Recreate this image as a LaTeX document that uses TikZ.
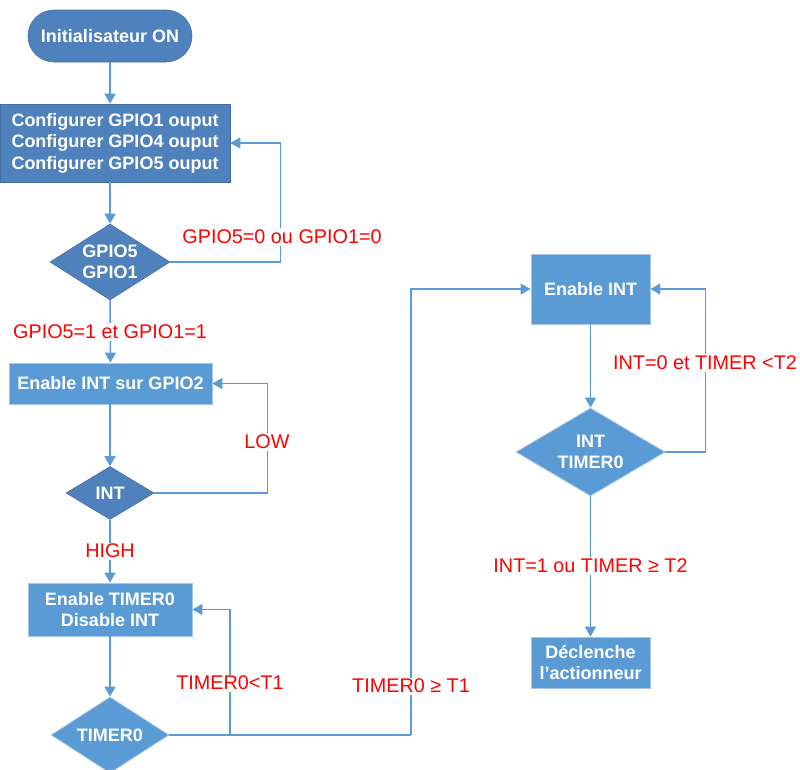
\documentclass[tikz,border=0pt]{standalone}
\usepackage{fontspec}
\setmainfont{Liberation Sans}
\usetikzlibrary{shapes.geometric,arrows.meta}
\definecolor{darkfill}{HTML}{4F81BD}
\definecolor{lightfill}{HTML}{5B9BD5}
\definecolor{linkblue}{HTML}{5B9BD5}
\definecolor{labelred}{HTML}{FF0000}

\begin{document}
\begin{tikzpicture}[x=1pt,y=-1pt,
  nodetext/.style={text=white, font=\bfseries\fontsize{18}{21.5}\selectfont, align=center},
  darkbox/.style={rectangle, nodetext, inner sep=0pt, fill=darkfill, draw=darkfill!85!black, line width=0.6pt},
  lightbox/.style={rectangle, nodetext, inner sep=0pt, fill=lightfill, draw=lightfill!55!white, line width=0.8pt},
  darkdec/.style={diamond, nodetext, inner sep=-8pt, fill=darkfill, draw=darkfill!85!black, line width=0.6pt},
  lightdec/.style={diamond, nodetext, inner sep=-8pt, fill=lightfill, draw=lightfill!55!white, line width=0.8pt},
  flow/.style={draw=linkblue, line width=1.5pt, -{Triangle[length=10pt,width=11pt]}},
  link/.style={draw=linkblue, line width=1.5pt},
  cond/.style={fill=white, text=labelred, inner sep=1.5pt, font=\fontsize{19.8}{23}\selectfont}]

\useasboundingbox (0,0) rectangle (800,769);
\clip (0,0) rectangle (800,769);

% left column
\node[darkbox, rounded corners=26pt, minimum width=164pt, minimum height=52pt] (init) at (110,36) {Initialisateur ON};
\node[darkbox, align=left, minimum width=230pt, minimum height=78pt] (cfg) at (115,143)
  {Configurer GPIO1 ouput\\Configurer GPIO4 ouput\\Configurer GPIO5 ouput};
\node[darkdec, minimum width=120pt, minimum height=76pt] (dgpio) at (110,262) {GPIO5\\GPIO1};
\node[lightbox, minimum width=203pt, minimum height=41pt] (engpio) at (110.5,383.5) {Enable INT sur GPIO2};
\node[darkdec, minimum width=88pt, minimum height=53pt] (dint) at (110,493) {INT};
\node[lightbox, minimum width=164pt, minimum height=53pt] (tmr) at (110,609.5) {Enable TIMER0\\Disable INT};
\node[lightdec, minimum width=118pt, minimum height=76pt] (dtimer) at (110,735) {TIMER0};

% right column
\node[lightbox, minimum width=119pt, minimum height=70pt] (enint) at (590.5,289) {Enable INT};
\node[lightdec, minimum width=149pt, minimum height=88pt] (dit) at (590.5,452) {INT\\TIMER0};
\node[lightbox, minimum width=119pt, minimum height=51pt] (act) at (590.5,662.5) {Déclenche\\l’actionneur};

% turning points of the timer branch
\coordinate (j) at (230,735);
\coordinate (k) at (411,735);

% connectors
\draw[flow] (init) -- (init |- cfg.north);
\draw[flow] (cfg.south -| init) -- (dgpio);
\draw[flow] (dgpio.east) -- ++(110,0) |- (cfg.east);
\draw[flow] (dgpio) -- (engpio);
\draw[flow] (engpio.south -| dint) -- (dint);
\draw[flow] (dint.east) -- ++(113,0) |- (engpio.east);
\draw[flow] (dint) -- (tmr);
\draw[flow] (tmr) -- (dtimer);
\draw[link] (dtimer.east) -- (k);
\draw[flow] (j) |- (tmr.east);
\draw[flow] (k) |- (enint.west);
\draw[flow] (enint) -- (dit);
\draw[flow] (dit.east) -- ++(40,0) |- (enint.east);
\draw[flow] (dit) -- (act);

% branch conditions
\node[cond] (c1) at (282,237) {GPIO5=0 ou GPIO1=0};
\node[cond] (c2) at (110,332) {GPIO5=1 et GPIO1=1};
\node[cond] (c3) at (267,442) {LOW};
\node[cond] (c4) at (110,551) {HIGH};
\node[cond] (c5) at (230,683) {TIMER0<T1};
\node[cond] (c6) at (411,686) {TIMER0 ≥ T1};
\node[cond] (c7) at (705,363) {INT=0 et TIMER <T2};
\node[cond] (c8) at (590.5,566) {INT=1 ou TIMER ≥ T2};
\end{tikzpicture}
\end{document}
